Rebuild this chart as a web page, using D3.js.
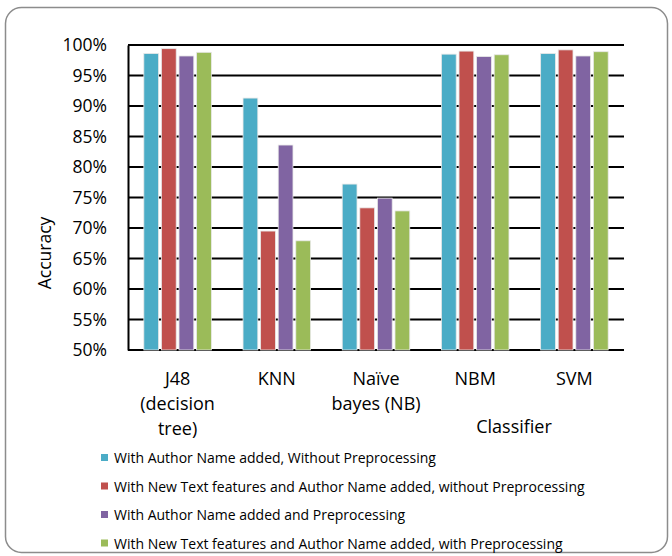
<!DOCTYPE html>
<html>
<head>
<meta charset="utf-8">
<script src="https://cdn.jsdelivr.net/npm/d3@7"></script>
<style>
  html, body { margin: 0; padding: 0; background: #fff; }
  svg { display: block; font-family: "Open Sans", Lato, "DejaVu Sans", sans-serif; }
</style>
</head>
<body>
<svg id="chart" width="672" height="556"></svg>
<script>
// Classifier accuracy under four feature / preprocessing settings
const categories = [["J48", "(decision", "tree)"], ["KNN"], ["Naïve", "bayes (NB)"], ["NBM"], ["SVM"]];
const seriesNames = [
  "With Author Name added, Without Preprocessing",
  "With New Text features and Author Name added, without Preprocessing",
  "With Author Name added and Preprocessing",
  "With New Text features and Author Name added, with Preprocessing"
];
const authorNoPre   = [98.6, 91.3, 77.2, 98.5, 98.6];
const newTextNoPre  = [99.4, 69.5, 73.3, 99.0, 99.2];
const authorPre     = [98.2, 83.6, 74.9, 98.1, 98.2];
const newTextPre    = [98.8, 67.9, 72.8, 98.4, 98.9];
const yTicks = [50, 55, 60, 65, 70, 75, 80, 85, 90, 95, 100];
const colors = ["#4BACC6", "#C0504D", "#8064A2", "#9BBB59"];

const series = [authorNoPre, newTextNoPre, authorPre, newTextPre];
const svg = d3.select("#chart");

// outer frame
svg.append("rect")
  .attr("x", 5.5).attr("y", 7.5).attr("width", 662).attr("height", 545)
  .attr("rx", 16).attr("ry", 16)
  .attr("fill", "#fff").attr("stroke", "#8c8c8c").attr("stroke-width", 1.5);

const plotL = 128, plotR = 624, plotT = 45, plotB = 350;
const x0 = d3.scaleBand().domain(d3.range(categories.length)).range([plotL, plotR]).paddingInner(0).paddingOuter(0);
const x1 = d3.scaleBand().domain(d3.range(series.length)).range([0, x0.bandwidth()]).paddingInner(0.16).paddingOuter(0.9);
const y = d3.scaleLinear().domain([50, 100]).range([plotB, plotT]);

// horizontal gridlines
svg.append("g").selectAll("line").data(yTicks).join("line")
  .attr("x1", plotL).attr("x2", plotR)
  .attr("y1", d => y(d)).attr("y2", d => y(d))
  .attr("stroke", "#000").attr("stroke-width", 2);

// bars
const groups = svg.append("g").selectAll("g").data(categories).join("g")
  .attr("transform", (d, i) => `translate(${x0(i)},0)`);
groups.selectAll("rect")
  .data((d, i) => series.map((s, k) => ({ k, v: s[i] })))
  .join("rect")
  .attr("x", d => x1(d.k))
  .attr("width", x1.bandwidth())
  .attr("y", d => y(d.v))
  .attr("height", d => y(50) - y(d.v))
  .attr("fill", d => colors[d.k])
  .attr("stroke", "#e8e8e8").attr("stroke-width", 0.8);

// y axis
const yAxis = d3.axisLeft(y).tickValues(yTicks).tickSize(0).tickPadding(21).tickFormat(d => d + "%");
const ya = svg.append("g").attr("transform", `translate(${plotL},0)`).call(yAxis);
ya.select(".domain").attr("stroke", "#000").attr("stroke-width", 2);
ya.selectAll("text").attr("font-size", 17.5).attr("fill", "#000").attr("font-family", "'Open Sans', sans-serif");

// x category labels
const xl = svg.append("g");
categories.forEach((lines, i) => {
  const t = xl.append("text")
    .attr("x", x0(i) + x0.bandwidth() / 2)
    .attr("y", 385)
    .attr("text-anchor", "middle")
    .attr("font-size", 18).attr("fill", "#000");
  lines.forEach((ln, j) => t.append("tspan")
    .attr("x", x0(i) + x0.bandwidth() / 2)
    .attr("dy", j === 0 ? 0 : 25)
    .text(ln));
});

// axis titles
svg.append("text").attr("x", 514).attr("y", 433).attr("text-anchor", "middle")
  .attr("font-size", 18).attr("fill", "#000").text("Classifier");
svg.append("text").attr("transform", "translate(51,253) rotate(-90)").attr("text-anchor", "middle")
  .attr("font-size", 17.5).attr("fill", "#000").text("Accuracy");

// legend
const leg = svg.append("g").selectAll("g").data(seriesNames).join("g")
  .attr("transform", (d, i) => `translate(101,${458 + i * 28.5})`);
leg.append("rect").attr("x", 0).attr("y", -4).attr("width", 7).attr("height", 7)
  .attr("fill", (d, i) => colors[i]);
leg.append("text").attr("x", 13).attr("y", 5)
  .attr("font-size", 14).attr("fill", "#000").text(d => d);
</script>
</body>
</html>
